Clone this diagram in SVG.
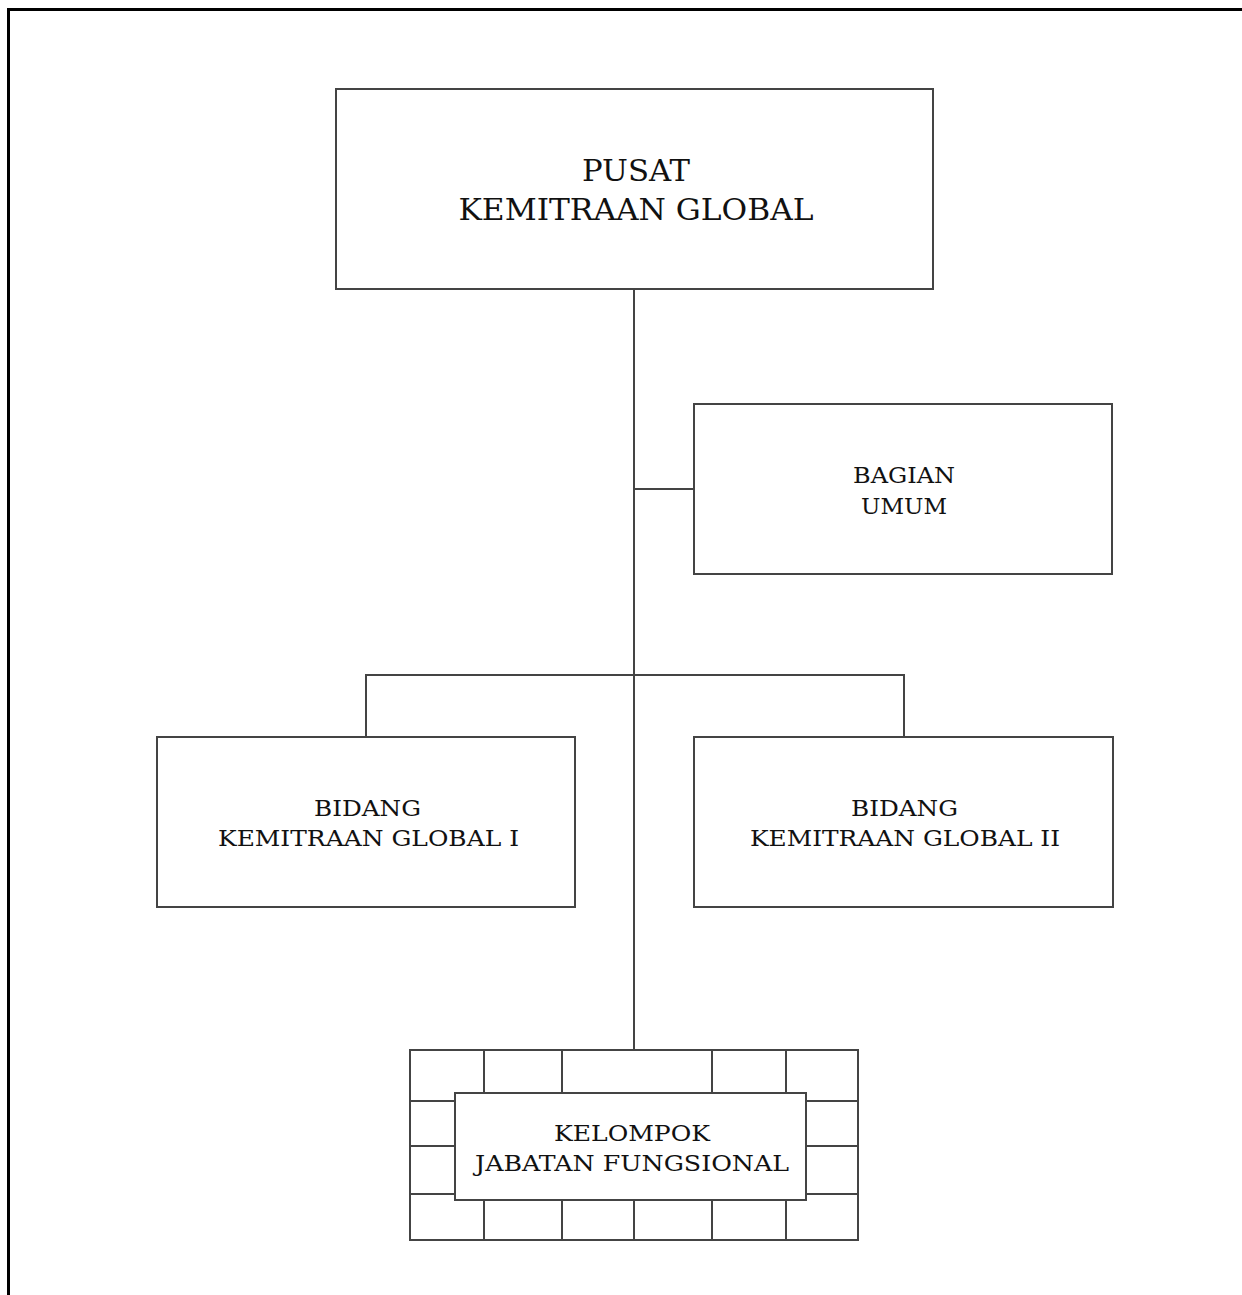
<svg xmlns="http://www.w3.org/2000/svg" width="1242" height="1295" viewBox="0 0 1242 1295">
<style>
.box{fill:#fff;stroke:#444;stroke-width:2}
.ln{fill:none;stroke:#444;stroke-width:2}
.t1{font-family:"DejaVu Serif","Liberation Serif",serif;font-size:29px;fill:#111;text-anchor:middle}
.t2{font-family:"DejaVu Serif","Liberation Serif",serif;font-size:23px;fill:#111;text-anchor:middle}
</style>
<rect width="1242" height="1295" fill="#fff"/>
<path d="M8.5 1295 V9.5 H1242" fill="none" stroke="#000" stroke-width="3"/>
<g id="connectors">
<path class="ln" d="M634 289 V1093"/>
<path class="ln" d="M634 489 H694"/>
<path class="ln" d="M366 737 V675 H904 V737"/>
</g>
<g id="pusat">
<rect class="box" x="336" y="89" width="597" height="200"/>
<text class="t1" x="636" y="181" textLength="108" lengthAdjust="spacingAndGlyphs">PUSAT</text>
<text class="t1" x="636" y="220" textLength="355" lengthAdjust="spacingAndGlyphs">KEMITRAAN GLOBAL</text>
</g>
<g id="bagian-umum">
<rect class="box" x="694" y="404" width="418" height="170"/>
<text class="t2" x="904" y="483" textLength="102" lengthAdjust="spacingAndGlyphs">BAGIAN</text>
<text class="t2" x="904" y="514" textLength="86" lengthAdjust="spacingAndGlyphs">UMUM</text>
</g>
<g id="bidang-1">
<rect class="box" x="157" y="737" width="418" height="170"/>
<text class="t2" x="367.5" y="816" textLength="107" lengthAdjust="spacingAndGlyphs">BIDANG</text>
<text class="t2" x="368.5" y="846" textLength="301" lengthAdjust="spacingAndGlyphs">KEMITRAAN GLOBAL I</text>
</g>
<g id="bidang-2">
<rect class="box" x="694" y="737" width="419" height="170"/>
<text class="t2" x="904.5" y="816" textLength="107" lengthAdjust="spacingAndGlyphs">BIDANG</text>
<text class="t2" x="905" y="846" textLength="310" lengthAdjust="spacingAndGlyphs">KEMITRAAN GLOBAL II</text>
</g>
<g id="kelompok-jabatan-fungsional">
<rect class="box" x="410" y="1050" width="448" height="190"/>
<path class="ln" d="M484 1050 V1093 M562 1050 V1093 M712 1050 V1093 M786 1050 V1093 M484 1200 V1240 M562 1200 V1240 M634 1200 V1240 M712 1200 V1240 M786 1200 V1240 M410 1101 H455 M410 1146 H455 M410 1194 H455 M806 1101 H858 M806 1146 H858 M806 1194 H858"/>
<rect class="box" x="455" y="1093" width="351" height="107"/>
<text class="t2" x="632" y="1141" textLength="156" lengthAdjust="spacingAndGlyphs">KELOMPOK</text>
<text class="t2" x="632" y="1171" textLength="314" lengthAdjust="spacingAndGlyphs">JABATAN FUNGSIONAL</text>
</g>
</svg>
